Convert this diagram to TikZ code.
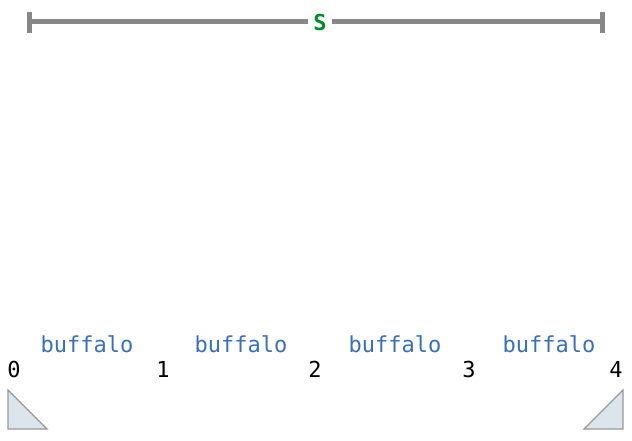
\documentclass[tikz,border=0pt]{standalone}
\usepackage{fontspec}
\setmonofont{DejaVu Sans Mono}
\definecolor{bargray}{HTML}{888888}
\definecolor{sgreen}{HTML}{008A2E}
\definecolor{wordblue}{HTML}{3A6FB8}
\definecolor{trifill}{HTML}{DCE4EC}
\definecolor{triline}{HTML}{999999}
\begin{document}
\begin{tikzpicture}[x=1pt,y=-1pt,
  word/.style={font=\ttfamily\fontsize{22}{22}\selectfont, text=wordblue, anchor=base, inner sep=0pt},
  idx/.style={font=\ttfamily\fontsize{22}{22}\selectfont, text=black, anchor=base, inner sep=0pt},
  bar/.style={draw=bargray, line width=5pt},
  tri/.style={fill=trifill, draw=triline, line width=1.2pt, line join=miter}]
\useasboundingbox (0,0) rectangle (632,441);
% top span
\coordinate (L) at (29,22);
\coordinate (R) at (602,22);
\node[font=\ttfamily\bfseries\fontsize{22}{22}\selectfont, text=sgreen, fill=white, inner sep=3pt, minimum width=24pt] (S) at (320,22) {S};
\draw[bar] (L) -- (S.west);
\draw[bar] (S.east) -- (R);
\draw[bar] (29,12) -- (29,33);
\draw[bar] (602,12) -- (602,33);
% words
\node[word] (w1) at (87,352) {buffalo};
\node[word] (w2) at (241,352) {buffalo};
\node[word] (w3) at (395,352) {buffalo};
\node[word] (w4) at (549,352) {buffalo};
% indices
\node[idx] (i0) at (14,377) {0};
\node[idx] (i1) at (163,377) {1};
\node[idx] (i2) at (315,377) {2};
\node[idx] (i3) at (469,377) {3};
\node[idx] (i4) at (616,377) {4};
% triangles
\draw[tri] (8,390) -- (8,429) -- (47,429) -- cycle;
\draw[tri] (623,390) -- (623,429) -- (584,429) -- cycle;
\end{tikzpicture}
\end{document}
